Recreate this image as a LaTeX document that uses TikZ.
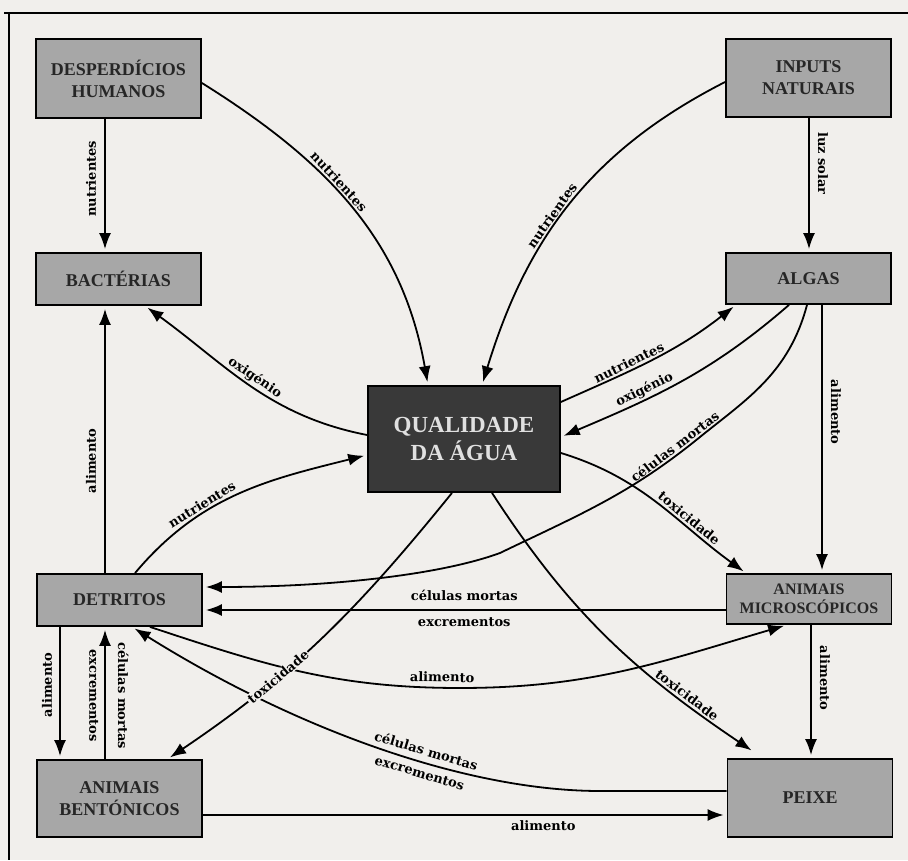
\documentclass[tikz,border=0pt]{standalone}
\usepackage{fontspec}
\setmainfont{Liberation Serif}
\newfontfamily\lblfont{DejaVu Serif}
\usetikzlibrary{arrows.meta}
\definecolor{paper}{HTML}{F1EFEC}
\definecolor{boxgray}{HTML}{A7A7A7}
\definecolor{boxdark}{HTML}{393939}

\begin{document}
\begin{tikzpicture}[x=1pt,y=1pt]
  \tikzstyle{every node}=[font=\bfseries\fontsize{18}{22}\selectfont]
  \tikzstyle{box}=[draw,line width=1.8pt,fill=boxgray,text=black!85,align=center,minimum width=165pt,inner sep=0pt]
  \tikzstyle{lbl}=[font=\lblfont\bfseries\fontsize{13}{15}\selectfont,inner sep=2pt]
  \tikzstyle{flow}=[line width=1.8pt,-{Latex[length=16pt,width=12pt]},shorten >=3pt]

  \fill[paper] (0,0) rectangle (908,860);
  \useasboundingbox (0,0) rectangle (908,860);
  \draw[line width=1.5pt] (4,847) -- (908,847);
  \draw[line width=1.5pt] (9,847) -- (9,0);

  \node[box,minimum height=79pt] (desp) at (118.5,781.5) {DESPERDÍCIOS\\HUMANOS};
  \node[box,minimum height=52pt] (bact) at (118.5,581) {BACTÉRIAS};
  \node[box,minimum height=78pt] (inputs) at (808.5,782) {INPUTS\\NATURAIS};
  \node[box,minimum height=51pt] (algas) at (808.5,581.5) {ALGAS};
  \node[box,fill=boxdark,text=white!88!black,minimum width=192pt,minimum height=106pt,
    font=\bfseries\fontsize{23}{28}\selectfont] (qual) at (464,421) {QUALIDADE\\DA ÁGUA};
  \node[box,minimum height=52pt] (detr) at (119.5,260) {DETRITOS};
  \node[box,minimum height=50pt,font=\bfseries\fontsize{16}{19}\selectfont] (micro) at (809,261) {ANIMAIS\\MICROSCÓPICOS};
  \node[box,minimum height=77pt] (bent) at (119.5,61.5) {ANIMAIS\\BENTÓNICOS};
  \node[box,minimum height=78pt] (peixe) at (810,62) {PEIXE};

  \draw[flow] ([xshift=-13.5pt]desp.south) -- ([xshift=-13.5pt]bact.north)
    node[lbl,pos=0.45,rotate=90,above=6pt] {nutrientes};
  \draw[flow] ([yshift=-4.5pt]desp.east) to[out=-32,in=100]
    node[lbl,pos=0.42,sloped,above] {nutrientes} ([xshift=-36pt]qual.north);
  \draw[flow] ([xshift=0.5pt]inputs.south) -- ([xshift=0.5pt]algas.north)
    node[lbl,pos=0.34,rotate=-90,above=6pt] {luz solar};
  \draw[flow] ([yshift=-4pt]inputs.west) to[out=207,in=73]
    node[lbl,pos=0.55,sloped,above] {nutrientes} ([xshift=18pt]qual.north);

  \draw[flow] ([yshift=4pt]qual.west) to[out=169,in=-36]
    node[lbl,pos=0.5,sloped,above] {oxigénio} ([xshift=26.5pt]bact.south);
  \draw[flow] ([xshift=15.5pt]detr.north) to[out=50,in=194]
    node[lbl,pos=0.35,sloped,above] {nutrientes} ([yshift=-16pt]qual.west);
  \draw[flow] ([xshift=-14.5pt]detr.north) -- ([xshift=-13.5pt]bact.south)
    node[lbl,pos=0.42,rotate=90,above=6pt] {alimento};

  \draw[flow] ([yshift=37pt]qual.east) to[out=24,in=218]
    node[lbl,pos=0.38,sloped,above] {nutrientes} ([xshift=-72.5pt]algas.south);
  \draw[flow] ([xshift=-19.5pt]algas.south) to[out=221,in=23]
    node[lbl,pos=0.65,sloped,above] {oxigénio} ([yshift=2pt]qual.east);
  \draw[flow] ([xshift=-1.5pt]algas.south) .. controls (789,487) and (747,461) .. (700,423)
    .. controls (630,366) and (581,346) .. (500,307) node[lbl,pos=0.1,sloped,above] {células mortas}
    .. controls (440,285) and (330,273) .. ([yshift=13pt]detr.east);
  \draw[flow] ([yshift=-14pt]qual.east) to[out=-17,in=144]
    node[lbl,pos=0.66,sloped,above] {toxicidade} ([xshift=-63pt]micro.north);

  \draw[flow] ([yshift=-11pt]micro.west) -- ([yshift=-10pt]detr.east)
    node[lbl,midway,above=6pt] {células mortas}
    node[lbl,midway,below=5pt] {excrementos};
  \draw[flow] ([xshift=30.5pt]detr.south) .. controls (268,194) and (337,172) .. (460,172)
    node[lbl,pos=0.95,sloped,above=3pt] {alimento}
    .. controls (590,172) and (661,198) .. ([xshift=-22pt]micro.south);
  \draw[flow] ([yshift=7pt]peixe.west) -- (600,69) .. controls (470,69) and (300,128) .. ([xshift=12.5pt]detr.south)
    node[lbl,pos=0.41,sloped,above=4pt] {células mortas}
    node[lbl,pos=0.41,sloped,below=4pt] {excrementos};

  \draw[flow] ([xshift=-12pt]qual.south) to[out=231,in=34]
    node[lbl,pos=0.66,sloped,fill=paper,inner sep=1pt] {toxicidade} ([xshift=48pt]bent.north);
  \draw[flow] ([xshift=28pt]qual.south) to[out=-57,in=146]
    node[lbl,pos=0.78,sloped,above] {toxicidade} ([xshift=-56pt,yshift=6pt]peixe.north);

  \draw[flow] ([xshift=2pt]micro.south) -- ([xshift=1pt]peixe.north)
    node[lbl,pos=0.4,rotate=-90,above=6pt] {alimento};
  \draw[flow] ([xshift=13.5pt]algas.south) -- ([xshift=13pt]micro.north)
    node[lbl,pos=0.4,rotate=-90,above=6pt] {alimento};
  \draw[flow] ([xshift=-59.5pt]detr.south) -- ([xshift=-59.5pt]bent.north)
    node[lbl,pos=0.44,rotate=90,above=5pt] {alimento};
  \draw[flow] ([xshift=-14.5pt]bent.north) -- ([xshift=-14.5pt]detr.south)
    node[lbl,pos=0.48,rotate=-90,below=4pt] {excrementos}
    node[lbl,pos=0.48,rotate=-90,above=10pt] {células mortas};
  \draw[flow] ([yshift=-16.5pt]bent.east) -- ([yshift=-17pt]peixe.west)
    node[lbl,pos=0.65,below=3pt] {alimento};
\end{tikzpicture}
\end{document}
